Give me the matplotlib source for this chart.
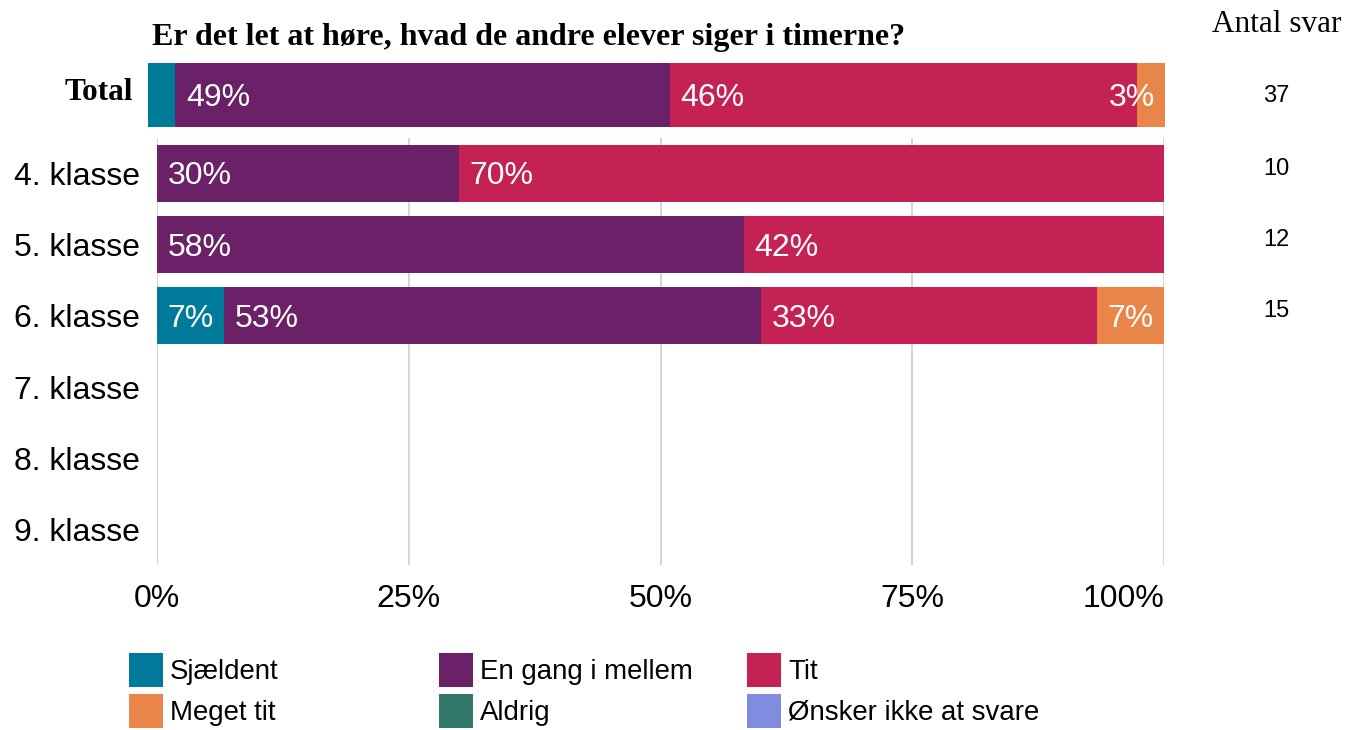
import matplotlib
matplotlib.use("Agg")
import matplotlib.pyplot as plt
from matplotlib.patches import Rectangle

W, H = 1346, 730
title = "Er det let at høre, hvad de andre elever siger i timerne?"
categories = ["Sjældent", "En gang i mellem", "Tit", "Meget tit", "Aldrig", "Ønsker ikke at svare"]
colors = ["#007A99", "#6A2167", "#C42154", "#E98548", "#33796B", "#7F8CE0"]

total_label = "Total"
total_values = [2.7, 48.6, 45.9, 2.7, 0, 0]
total_n = 37

groups = ["4. klasse", "5. klasse", "6. klasse", "7. klasse", "8. klasse", "9. klasse"]
group_values = [
    [0, 30.0, 70.0, 0, 0, 0],
    [0, 58.3, 41.7, 0, 0, 0],
    [6.7, 53.3, 33.3, 6.7, 0, 0],
    [0, 0, 0, 0, 0, 0],
    [0, 0, 0, 0, 0, 0],
    [0, 0, 0, 0, 0, 0],
]
group_n = [10, 12, 15, None, None, None]

xticks = [0, 25, 50, 75, 100]
xticklabels = ["0%", "25%", "50%", "75%", "100%"]

SANS = ["Liberation Sans", "DejaVu Sans"]
SERIF = ["Liberation Serif", "DejaVu Serif"]
plt.rcParams["font.family"] = SANS

FS = 23

fig = plt.figure(figsize=(W / 100, H / 100), dpi=100)

def box(x0, y0, x1, y1):
    return [x0 / W, 1 - y1 / H, (x1 - x0) / W, (y1 - y0) / H]

def seg_labels(ax, y, vals, fs):
    left = 0
    nz = [i for i, v in enumerate(vals) if v > 0]
    for i, v in enumerate(vals):
        if v <= 0:
            continue
        txt = f"{round(v):d}%"
        if v >= 5:
            ax.annotate(txt, (left, y), xytext=(7.5, -2), textcoords="offset points",
                        ha="left", va="center", color="white", fontsize=fs)
        elif i == nz[-1]:
            ax.annotate(txt, (left + v, y), xytext=(-7.5, -2), textcoords="offset points",
                        ha="right", va="center", color="white", fontsize=fs)
        left += v

# Total axes
axt = fig.add_axes(box(148, 63, 1166, 127))
left = 0
for v, c in zip(total_values, colors):
    if v > 0:
        axt.barh(0, v, left=left, height=1.0, color=c, linewidth=0)
    left += v
axt.set_xlim(0, 100)
axt.set_ylim(-0.5, 0.5)
axt.axis("off")
seg_labels(axt, 0.0, total_values, FS)

# Main axes
ax = fig.add_axes(box(157, 138, 1164, 565))
ypos = list(range(len(groups)))
for j, c in enumerate(colors):
    vals = [row[j] for row in group_values]
    lefts = [sum(row[:j]) for row in group_values]
    ax.barh(ypos, vals, left=lefts, height=0.8, color=c, linewidth=0, zorder=2)
for y, row in zip(ypos, group_values):
    seg_labels(ax, y, row, FS)
ax.set_xlim(0, 100)
ax.set_ylim(len(groups) - 0.5, -0.5)
ax.set_xticks(xticks)
ax.set_xticklabels(xticklabels, fontsize=FS)
ax.get_xticklabels()[-1].set_horizontalalignment("right")
ax.set_yticks(ypos)
ax.set_yticklabels(groups, fontsize=FS)
ax.tick_params(axis="both", length=0)
ax.tick_params(axis="x", pad=14)
ax.tick_params(axis="y", pad=12)
for s in ax.spines.values():
    s.set_visible(False)
ax.grid(axis="x", color="#C9CED3", linewidth=1.2, zorder=0)
ax.set_axisbelow(True)

# Titles and counts
fig.text(152 / W, 1 - 38 / H, title, family=SERIF, fontweight="bold", fontsize=23,
         ha="left", va="center")
fig.text(1277 / W, 1 - 24 / H, "Antal svar", family=SERIF, fontsize=22.5, ha="center", va="center")
fig.text(133 / W, 1 - 92 / H, total_label, family=SERIF, fontweight="bold", fontsize=22.5,
         ha="right", va="center")
fig.text(1276 / W, 1 - 96 / H, str(total_n), fontsize=17, ha="center", va="center")
for y, n in zip(ypos, group_n):
    if n is None:
        continue
    yd = ax.transData.transform((0, y))[1]
    fig.text(1276 / W, (yd + 5) / H, str(n), fontsize=17, ha="center", va="center")

# Legend (3 columns x 2 rows)
col_x = [129, 439, 747]
row_y = [670, 711]
for k, (lab, c) in enumerate(zip(categories, colors)):
    r, cidx = divmod(k, 3)
    x0, yc = col_x[cidx], row_y[r]
    fig.add_artist(Rectangle((x0 / W, 1 - (yc + 17) / H), 34 / W, 34 / H,
                             transform=fig.transFigure, color=c, linewidth=0))
    fig.text((x0 + 41) / W, 1 - (yc + 2) / H, lab, fontsize=19.9, ha="left", va="center")

fig.savefig("out.png", dpi=100)
